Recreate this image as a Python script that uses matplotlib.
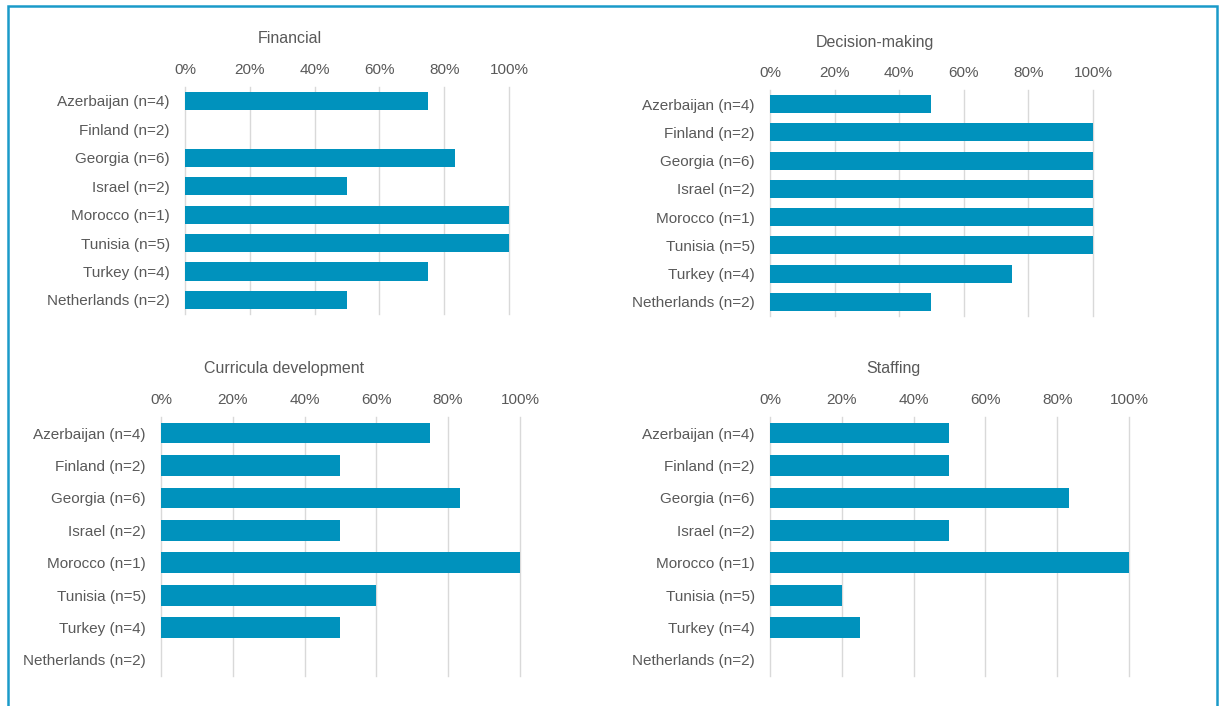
import matplotlib.pyplot as plt
from matplotlib.patches import Rectangle
from matplotlib.ticker import PercentFormatter

plt.rcParams['font.family'] = ['Liberation Sans', 'DejaVu Sans']

countries = ['Azerbaijan (n=4)', 'Finland (n=2)', 'Georgia (n=6)', 'Israel (n=2)',
             'Morocco (n=1)', 'Tunisia (n=5)', 'Turkey (n=4)', 'Netherlands (n=2)']

financial = [75, 0, 83.3, 50, 100, 100, 75, 50]
decision_making = [50, 100, 100, 100, 100, 100, 75, 50]
curricula = [75, 50, 83.3, 50, 100, 60, 50, 0]
staffing = [50, 50, 83.3, 50, 100, 20, 25, 0]

bar_color = '#0092BD'
text_color = '#595959'
grid_color = '#D9D9D9'

fig = plt.figure(figsize=(12.23, 7.06), dpi=100)

# (values, title, axes rect, title position)
panels = [
    (financial, 'Financial', [0.1513, 0.5550, 0.2649, 0.3221], (0.2371, 0.945)),
    (decision_making, 'Decision-making', [0.6296, 0.5523, 0.2641, 0.3204], (0.7155, 0.9395)),
    (curricula, 'Curricula development', [0.1316, 0.0422, 0.2935, 0.3674], (0.2322, 0.4785)),
    (staffing, 'Staffing', [0.6296, 0.0422, 0.2935, 0.3674], (0.7302, 0.4785)),
]

for values, title, rect, tpos in panels:
    ax = fig.add_axes(rect)
    ypos = range(len(countries))
    ax.barh(ypos, values, height=0.64, color=bar_color, zorder=3)
    ax.set_xlim(0, 100)
    ax.set_ylim(len(countries) - 0.5, -0.5)
    ax.set_yticks(list(ypos))
    ax.set_yticklabels(countries)
    ax.set_xticks([0, 20, 40, 60, 80, 100])
    ax.xaxis.set_major_formatter(PercentFormatter(decimals=0))
    ax.xaxis.tick_top()
    ax.tick_params(axis='x', length=0, pad=7, labelsize=11, labelcolor=text_color)
    ax.tick_params(axis='y', length=0, pad=11, labelsize=11, labelcolor=text_color)
    ax.grid(axis='x', color=grid_color, linewidth=1, zorder=0)
    for gl in ax.get_xgridlines():
        gl.set_clip_on(False)
    for s in ax.spines.values():
        s.set_visible(False)
    fig.text(tpos[0], tpos[1], title, ha='center', va='center',
             fontsize=11.5, color=text_color)

# outer frame
fig.patches.append(Rectangle((8 / 1223, -0.05), 1209 / 1223, 1.05 - 6 / 706,
                             transform=fig.transFigure, fill=False,
                             edgecolor='#1A9AC9', linewidth=1.8))

fig.savefig('out.png', dpi=100)
